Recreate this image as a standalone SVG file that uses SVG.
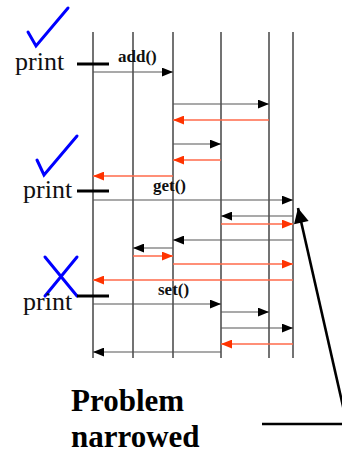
<svg xmlns="http://www.w3.org/2000/svg" width="342" height="454" viewBox="0 0 342 454">
  <style>
    .life { stroke: #444; stroke-width: 1.5; }
    .call { stroke: #555; stroke-width: 1.2; fill: none; marker-end: url(#headBlack); }
    .ret  { stroke: #ff6a4a; stroke-width: 1.6; fill: none; marker-end: url(#headRed); }
    .mark { stroke: #0000ff; stroke-width: 3; fill: none; stroke-linecap: round; stroke-linejoin: miter; }
    .dash { stroke: #000; stroke-width: 3; }
    .print { font-family: "Liberation Serif", "Times New Roman", serif; font-size: 26px; fill: #111; }
    .msg { font-family: "Liberation Serif", "Times New Roman", serif; font-size: 17px; font-weight: bold; fill: #111; }
    .title { font-family: "Liberation Serif", "Times New Roman", serif; font-size: 31px; font-weight: bold; fill: #000; }
  </style>
  <defs>
    <marker id="headBlack" viewBox="0 0 10 8" refX="10" refY="4" markerUnits="userSpaceOnUse" markerWidth="11" markerHeight="9" orient="auto">
      <path d="M0,0 L10,4 L0,8 Z" fill="#000"/>
    </marker>
    <marker id="headRed" viewBox="0 0 10 8" refX="10" refY="4" markerUnits="userSpaceOnUse" markerWidth="11" markerHeight="9" orient="auto">
      <path d="M0,0 L10,4 L0,8 Z" fill="#ff3300"/>
    </marker>
    <marker id="headBig" viewBox="0 0 10 10" refX="10" refY="5" markerUnits="userSpaceOnUse" markerWidth="17" markerHeight="15" orient="auto">
      <path d="M0,0 L10,5 L0,10 Z" fill="#000"/>
    </marker>
  </defs>

  <!-- lifelines -->
  <g id="lifelines">
    <line class="life" x1="93" y1="32" x2="93" y2="358"/>
    <line class="life" x1="133" y1="32" x2="133" y2="358"/>
    <line class="life" x1="173" y1="32" x2="173" y2="358"/>
    <line class="life" x1="221" y1="32" x2="221" y2="358"/>
    <line class="life" x1="269" y1="32" x2="269" y2="358"/>
    <line class="life" x1="293" y1="32" x2="293" y2="358"/>
  </g>

  <!-- print probes -->
  <g id="probe1">
    <polyline class="mark" points="28,32 36,46 68,8"/>
    <text class="print" x="15" y="70">print</text>
    <line class="dash" x1="77" y1="64" x2="109" y2="64"/>
  </g>
  <g id="probe2">
    <polyline class="mark" points="37,160 44,175 77,136"/>
    <text class="print" x="23" y="198">print</text>
    <line class="dash" x1="77" y1="191" x2="109" y2="191"/>
  </g>
  <g id="probe3">
    <line class="mark" x1="45" y1="257" x2="77" y2="296"/>
    <line class="mark" x1="77" y1="257" x2="45" y2="296"/>
    <text class="print" x="23" y="310">print</text>
    <line class="dash" x1="77" y1="296" x2="109" y2="296"/>
  </g>

  <!-- messages -->
  <g id="connectors">
    <text class="msg" x="118" y="62">add()</text>
    <line class="call" x1="93" y1="72" x2="173" y2="72"/>
    <line class="call" x1="173" y1="104" x2="269" y2="104"/>
    <line class="ret" x1="269" y1="120" x2="173" y2="120"/>
    <line class="call" x1="173" y1="144" x2="221" y2="144"/>
    <line class="ret" x1="221" y1="160" x2="173" y2="160"/>
    <line class="ret" x1="173" y1="176" x2="93" y2="176"/>

    <text class="msg" x="153" y="191">get()</text>
    <line class="call" x1="93" y1="200" x2="293" y2="200"/>
    <line class="call" x1="293" y1="216" x2="221" y2="216"/>
    <line class="ret" x1="221" y1="224" x2="293" y2="224"/>
    <line class="call" x1="293" y1="240" x2="173" y2="240"/>
    <line class="call" x1="173" y1="248" x2="133" y2="248"/>
    <line class="ret" x1="133" y1="256" x2="173" y2="256"/>
    <line class="ret" x1="173" y1="264" x2="293" y2="264"/>
    <line class="ret" x1="293" y1="280" x2="93" y2="280"/>

    <text class="msg" x="158" y="295">set()</text>
    <line class="call" x1="93" y1="304" x2="221" y2="304"/>
    <line class="call" x1="221" y1="312" x2="269" y2="312"/>
    <line class="call" x1="221" y1="328" x2="293" y2="328"/>
    <line class="ret" x1="293" y1="344" x2="221" y2="344"/>
    <line class="call" x1="221" y1="352" x2="93" y2="352"/>
  </g>

  <!-- callout -->
  <g id="callout">
    <text class="title" x="71" y="411">Problem</text>
    <text class="title" x="71" y="447">narrowed</text>
    <line x1="262" y1="424" x2="348" y2="424" stroke="#000" stroke-width="2.6"/>
    <line x1="347" y1="424" x2="298" y2="208" stroke="#000" stroke-width="2.6" marker-end="url(#headBig)"/>
  </g>
</svg>
